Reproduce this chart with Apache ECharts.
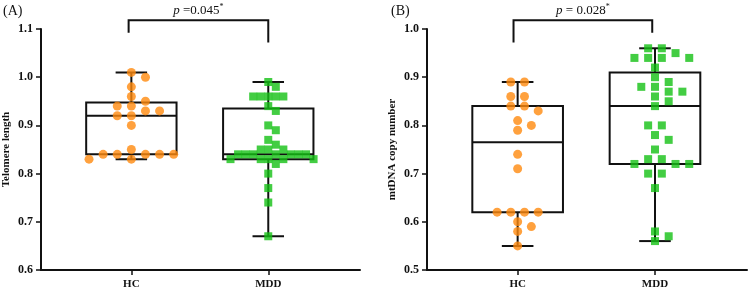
<!DOCTYPE html>
<html>
<head>
<meta charset="utf-8">
<script src="https://cdn.jsdelivr.net/npm/echarts@6/dist/echarts.min.js"></script>
<style>
  html, body { margin: 0; padding: 0; background: #fff; }
  #chart { width: 750px; height: 291px; }
</style>
</head>
<body>
<div id="chart"></div>
<script>
// group names on the x axis
const groups = ['HC', 'MDD'];

// (A) telomere length
const hcTelomere = [1.01, 1.00, 0.98, 0.96, 0.95, 0.94, 0.94, 0.93, 0.93, 0.92, 0.92, 0.90,
  0.85, 0.84, 0.84, 0.84, 0.84, 0.84, 0.83, 0.83];
const mddTelomere = [0.99, 0.98, 0.96, 0.96, 0.96, 0.96, 0.96, 0.94, 0.93, 0.90, 0.89, 0.87,
  0.86, 0.85, 0.85, 0.85, 0.84, 0.84, 0.84, 0.84, 0.84, 0.84, 0.84,
  0.83, 0.83, 0.83, 0.83, 0.83, 0.82, 0.80, 0.77, 0.74, 0.67];

// (B) mtDNA copy number
const hcMtdna = [0.89, 0.89, 0.86, 0.86, 0.84, 0.84, 0.83, 0.81, 0.80, 0.79, 0.74, 0.71,
  0.62, 0.62, 0.62, 0.62, 0.60, 0.59, 0.58, 0.55];
const mddMtdna = [0.96, 0.96, 0.95, 0.94, 0.94, 0.94, 0.94, 0.92, 0.90, 0.89, 0.88, 0.88,
  0.87, 0.87, 0.86, 0.85, 0.84, 0.80, 0.80, 0.78, 0.77, 0.75, 0.73, 0.73,
  0.72, 0.72, 0.72, 0.70, 0.70, 0.67, 0.58, 0.57, 0.56];

// p values shown over the brackets
const pTexts = ['{i|p} =0.045{s|*}', '{i|p} = 0.028{s|*}'];
// bracket: [x left, x right, y top, y left end, y right end]
const bracketA = [0.98, 2.0, 1.118, 1.092, 1.072];
const bracketB = [0.97, 1.98, 1.018, 0.972, 0.992];

// y axis ranges / ticks
const yRangeA = [0.6, 1.1];
const yRangeB = [0.5, 1.0];

// layout constants
const X_MIN = 0.34, X_MAX = 2.67;
const GRID_TOP = 29, GRID_BOTTOM = 21;
const PLOT_H = 291 - GRID_TOP - GRID_BOTTOM;
const GRID_A = {left: 39, right: 390};
const GRID_B = {left: 427, right: 3};
const BOX_HALF = 0.33;   // half box width, x units
const CAP_HALF = 0.115;  // half whisker cap width
const SERIF = '"Liberation Serif", "Times New Roman", serif';
const ORANGE = '#FF8A0E';
const GREEN = '#14C114';

// quartiles like GraphPad: (n+1)p
function quantile(sorted, p) {
  const n = sorted.length;
  let pos = p * (n + 1);
  if (pos < 1) pos = 1;
  if (pos > n) pos = n;
  const lo = Math.floor(pos), frac = pos - lo;
  const a = sorted[lo - 1], b = sorted[Math.min(lo, n - 1)];
  return a + (b - a) * frac;
}

function boxStats(values, x) {
  const s = values.slice().sort((a, b) => a - b);
  return [x, quantile(s, 0.25), quantile(s, 0.5), quantile(s, 0.75), s[0], s[s.length - 1]];
}

// simple beeswarm: equal values form a row, rows avoid overlap with near rows
function swarm(values, pxPerVal, spacing, rowGap) {
  const offsets = new Array(values.length).fill(0);
  const byVal = {};
  values.forEach((v, i) => {
    const k = v.toFixed(3);
    (byVal[k] = byVal[k] || []).push(i);
  });
  const keys = Object.keys(byVal).sort((a, b) => b - a);
  const placed = [];
  keys.forEach(k => {
    const idx = byVal[k];
    const n = idx.length;
    const y = parseFloat(k) * pxPerVal;
    let best = null;
    [0, 0.5].forEach(par => {
      const cands = [];
      for (let m = -20; m <= 20; m++) cands.push(m + par);
      cands.sort((a, b) => Math.abs(a) - Math.abs(b) || b - a);
      const picks = [];
      for (const c of cands) {
        const x = c * spacing;
        const hit = placed.some(p => Math.abs(p.y - y) < rowGap && Math.abs(p.x - x) < spacing * 0.99);
        if (!hit) picks.push(c);
        if (picks.length === n) break;
      }
      const cost = picks.reduce((t, c) => t + Math.abs(c), 0);
      const pref = (n % 2 === 1) === (par === 0);
      if (!best || cost < best.cost || (cost === best.cost && pref)) best = {cost, picks};
    });
    best.picks.forEach((c, j) => {
      offsets[idx[j]] = c * spacing;
      placed.push({x: c * spacing, y});
    });
  });
  return offsets;
}

function points(values, catX, gridW, yRange, spacing) {
  const pxPerVal = PLOT_H / (yRange[1] - yRange[0]);
  const pxPerX = gridW / (X_MAX - X_MIN);
  const off = swarm(values, pxPerVal, spacing, 9);
  return values.map((v, i) => [catX + off[i] / pxPerX, v]);
}

function renderBox(params, api) {
  const x = api.value(0);
  const q1 = api.value(1), med = api.value(2), q3 = api.value(3);
  const lo = api.value(4), hi = api.value(5);
  const tl = api.coord([x - BOX_HALF, q3]);
  const br = api.coord([x + BOX_HALF, q1]);
  const mL = api.coord([x - BOX_HALF, med]);
  const mR = api.coord([x + BOX_HALF, med]);
  const cHi = api.coord([x, hi]), cLo = api.coord([x, lo]);
  const capL = api.coord([x - CAP_HALF, hi])[0], capR = api.coord([x + CAP_HALF, hi])[0];
  const st = {stroke: '#111', lineWidth: 2, fill: null};
  return {
    type: 'group',
    children: [
      {type: 'line', shape: {x1: cHi[0], y1: cHi[1], x2: cHi[0], y2: tl[1]}, style: st},
      {type: 'line', shape: {x1: cLo[0], y1: br[1], x2: cLo[0], y2: cLo[1]}, style: st},
      {type: 'line', shape: {x1: capL, y1: cHi[1], x2: capR, y2: cHi[1]}, style: st},
      {type: 'line', shape: {x1: capL, y1: cLo[1], x2: capR, y2: cLo[1]}, style: st},
      {type: 'rect', shape: {x: tl[0], y: tl[1], width: br[0] - tl[0], height: br[1] - tl[1]}, style: st},
      {type: 'line', shape: {x1: mL[0], y1: mL[1], x2: mR[0], y2: mR[1]}, style: st}
    ]
  };
}

function renderBracket(params, api) {
  const a = api.coord([api.value(0), api.value(2)]);
  const b = api.coord([api.value(1), api.value(2)]);
  const aEnd = api.coord([api.value(0), api.value(3)]);
  const bEnd = api.coord([api.value(1), api.value(4)]);
  const st = {stroke: '#111', lineWidth: 2, fill: null};
  return {
    type: 'group',
    children: [
      {type: 'polyline', shape: {points: [[aEnd[0], aEnd[1]], [a[0], a[1]], [b[0], b[1]], [bEnd[0], bEnd[1]]]}, style: st},
      {
        type: 'text',
        x: (a[0] + b[0]) / 2, y: a[1] - 3,
        style: {
          text: pTexts[params.seriesIndex === 2 ? 0 : 1],
          x: 0, y: 0,
          align: 'center', verticalAlign: 'bottom',
          fontFamily: SERIF, fontSize: 13, fill: '#111',
          rich: {
            i: {fontStyle: 'italic', fontFamily: SERIF, fontSize: 13},
            s: {fontFamily: SERIF, fontSize: 8, verticalAlign: 'top', padding: [0, 0, 6, 0]}
          }
        }
      }
    ]
  };
}

function yAxis(gridIndex, range, name) {
  return {
    type: 'value', gridIndex, min: range[0], max: range[1], interval: 0.1,
    name, nameLocation: 'middle', nameGap: 29,
    nameTextStyle: {fontFamily: SERIF, fontWeight: 'bold', fontSize: 11, color: '#111'},
    axisLine: {show: true, lineStyle: {color: '#111', width: 2}},
    axisTick: {show: true, length: 5, lineStyle: {color: '#111', width: 1.5}},
    axisLabel: {fontFamily: SERIF, fontWeight: 'bold', fontSize: 12, color: '#111', margin: 8,
      formatter: v => v.toFixed(1)},
    splitLine: {show: false}
  };
}

function xAxis(gridIndex) {
  return {
    type: 'value', gridIndex, min: X_MIN, max: X_MAX,
    axisLine: {show: true, onZero: false, lineStyle: {color: '#111', width: 2}},
    axisTick: {show: true, length: 5, customValues: [1, 2], lineStyle: {color: '#111', width: 1.5}},
    axisLabel: {customValues: [1, 2], fontFamily: SERIF, fontWeight: 'bold', fontSize: 11, color: '#111', margin: 9,
      formatter: v => groups[Math.round(v) - 1]},
    splitLine: {show: false}
  };
}

const wA = 750 - GRID_A.left - GRID_A.right;
const wB = 750 - GRID_B.left - GRID_B.right;

const chart = echarts.init(document.getElementById('chart'));
chart.setOption({
  animation: false,
  backgroundColor: '#fff',
  title: [
    {text: '(A)', left: -2, top: -1, textStyle: {fontFamily: SERIF, fontWeight: 'normal', fontSize: 14, color: '#111'}},
    {text: '(B)', left: 386, top: -1, textStyle: {fontFamily: SERIF, fontWeight: 'normal', fontSize: 14, color: '#111'}}
  ],
  grid: [
    {left: GRID_A.left, right: GRID_A.right, top: GRID_TOP, bottom: GRID_BOTTOM},
    {left: GRID_B.left, right: GRID_B.right, top: GRID_TOP, bottom: GRID_BOTTOM}
  ],
  xAxis: [xAxis(0), xAxis(1)],
  yAxis: [yAxis(0, yRangeA, 'Telomere length'), yAxis(1, yRangeB, 'mtDNA copy number')],
  series: [
    {type: 'custom', xAxisIndex: 0, yAxisIndex: 0, z: 2, renderItem: renderBox,
      data: [boxStats(hcTelomere, 1), boxStats(mddTelomere, 2)]},
    {type: 'custom', xAxisIndex: 1, yAxisIndex: 1, z: 2, renderItem: renderBox,
      data: [boxStats(hcMtdna, 1), boxStats(mddMtdna, 2)]},
    {type: 'custom', xAxisIndex: 0, yAxisIndex: 0, z: 2, clip: false, renderItem: renderBracket, data: [bracketA]},
    {type: 'custom', xAxisIndex: 1, yAxisIndex: 1, z: 2, clip: false, renderItem: renderBracket, data: [bracketB]},
    {type: 'scatter', xAxisIndex: 0, yAxisIndex: 0, z: 3, symbol: 'circle', symbolSize: 9,
      itemStyle: {color: ORANGE}, data: points(hcTelomere, 1, wA, yRangeA, 14.2)},
    {type: 'scatter', xAxisIndex: 0, yAxisIndex: 0, z: 3, symbol: 'rect', symbolSize: 8,
      itemStyle: {color: GREEN}, data: points(mddTelomere, 2, wA, yRangeA, 7.6)},
    {type: 'scatter', xAxisIndex: 1, yAxisIndex: 1, z: 3, symbol: 'circle', symbolSize: 9,
      itemStyle: {color: ORANGE}, data: points(hcMtdna, 1, wB, yRangeB, 13.7)},
    {type: 'scatter', xAxisIndex: 1, yAxisIndex: 1, z: 3, symbol: 'rect', symbolSize: 8,
      itemStyle: {color: GREEN}, data: points(mddMtdna, 2, wB, yRangeB, 13.7)}
  ]
});
</script>
</body>
</html>
